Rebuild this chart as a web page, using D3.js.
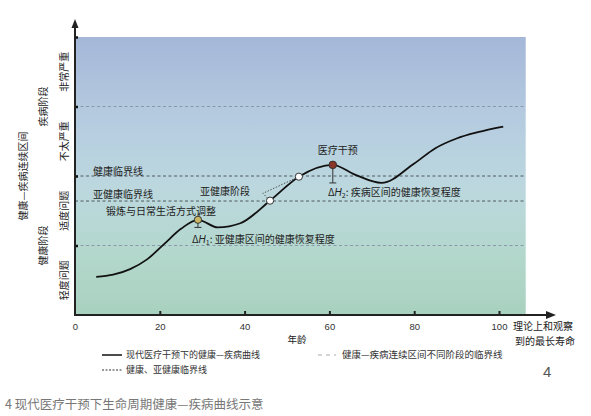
<!DOCTYPE html>
<html>
<head>
<meta charset="utf-8">
<script src="https://cdn.jsdelivr.net/npm/d3@7"></script>
<style>
  html, body { margin: 0; padding: 0; background: #fff; }
  svg { display: block; font-family: "Noto Sans CJK SC", "Noto Sans", sans-serif; }
</style>
</head>
<body>
<svg id="chart" width="591" height="416"></svg>
<script>
// Health–disease curve over the life course (age vs. health level)
const curveAges   = [5, 9, 13, 17, 21, 25, 29, 33.7, 39, 46, 52.8, 60.8, 66, 72.3, 80, 85, 90, 95, 101];
const curveValues = [0.55, 0.58, 0.66, 0.80, 1.02, 1.24, 1.37, 1.26, 1.32, 1.645, 1.99, 2.16, 2.02, 1.90, 2.18, 2.40, 2.54, 2.63, 2.71];

// Marked points on the curve (indices into the arrays above)
const yellowPoint = 6;          // exercise & lifestyle adjustment
const whitePoints = [9, 10];    // sub-health stage crossings
const redPoint = 11;            // medical intervention
const troughAfterYellow = 7;
const troughAfterRed = 13;

// Stage boundaries on the health axis
const stageLevels = [1, 2, 3, 4];
const healthLine = 2;           // 健康临界线
const subHealthLine = 1.64;     // 亚健康临界线

// Slope construction between the two white points
const slopeCorner = [44.3, 1.75];

const xTicks = [0, 20, 40, 60, 80, 100];
const bandLabels = ["轻度问题", "适度问题", "不太严重", "非常严重"];

const svg = d3.select("#chart");
const x = d3.scaleLinear([0, 100], [75, 499]);
const y = d3.scaleLinear([0, 4], [315, 37]);

// background gradient
const defs = svg.append("defs");
const grad = defs.append("linearGradient").attr("id", "bg").attr("x1", 0).attr("y1", 0).attr("x2", 0).attr("y2", 1);
[[0, "#a5b7d8"], [0.3, "#b5cce0"], [0.55, "#bcd8de"], [0.8, "#b2d7cb"], [1, "#a9d1bf"]]
  .forEach(([o, c]) => grad.append("stop").attr("offset", o).attr("stop-color", c));

svg.append("rect")
  .attr("x", x(0) + 1).attr("y", y(4))
  .attr("width", x(106.3) - x(0) - 1).attr("height", y(0) - y(4))
  .attr("fill", "url(#bg)");

// stage boundary lines (light gray)
svg.append("g").selectAll("line")
  .data(stageLevels.filter(v => v === 1 || v === 3))
  .join("line")
  .attr("x1", x(0)).attr("x2", x(106.3))
  .attr("y1", d => y(d)).attr("y2", d => y(d))
  .attr("stroke", "#8a98a8").attr("stroke-width", 1).attr("stroke-dasharray", "3,2.5");

// health & sub-health threshold lines (darker)
svg.append("g").selectAll("line")
  .data([healthLine, subHealthLine])
  .join("line")
  .attr("x1", x(0)).attr("x2", x(106.3))
  .attr("y1", d => y(d)).attr("y2", d => y(d))
  .attr("stroke", "#4e5a5e").attr("stroke-width", 1).attr("stroke-dasharray", "3,2.5");

// curve
const line = d3.line()
  .x((d, i) => x(curveAges[i]))
  .y((d, i) => y(curveValues[i]))
  .curve(d3.curveMonotoneX);
svg.append("path")
  .datum(curveAges)
  .attr("d", line)
  .attr("fill", "none").attr("stroke", "#111").attr("stroke-width", 1.8);

// slope construction (dotted)
const px = i => x(curveAges[i]), py = i => y(curveValues[i]);
svg.append("path")
  .attr("d", `M${px(whitePoints[1])},${py(whitePoints[1])} L${x(slopeCorner[0])},${y(slopeCorner[1])} L${px(whitePoints[0])},${py(whitePoints[0])}`)
  .attr("fill", "none").attr("stroke", "#333").attr("stroke-width", 0.8).attr("stroke-dasharray", "1.5,1.5");

// recovery bars (peak down to following trough)
function recoveryBar(peak, trough) {
  const cx = px(peak), y0 = py(peak), y1 = y(curveValues[trough]);
  svg.append("line").attr("x1", cx).attr("x2", cx).attr("y1", y0).attr("y2", y1)
    .attr("stroke", "#333").attr("stroke-width", 1);
  svg.append("line").attr("x1", cx - 3.5).attr("x2", cx + 3.5).attr("y1", y1).attr("y2", y1)
    .attr("stroke", "#333").attr("stroke-width", 1);
}
recoveryBar(yellowPoint, troughAfterYellow);
recoveryBar(redPoint, troughAfterRed);

// markers
svg.append("circle").attr("cx", px(yellowPoint)).attr("cy", py(yellowPoint)).attr("r", 3.6)
  .attr("fill", "#c9b765").attr("stroke", "#333").attr("stroke-width", 1);
svg.append("g").selectAll("circle").data(whitePoints).join("circle")
  .attr("cx", d => px(d)).attr("cy", d => py(d)).attr("r", 3.6)
  .attr("fill", "#fff").attr("stroke", "#333").attr("stroke-width", 1);
svg.append("circle").attr("cx", px(redPoint)).attr("cy", py(redPoint)).attr("r", 3.8)
  .attr("fill", "#8a3527").attr("stroke", "#333").attr("stroke-width", 1);

// axes
const xAxis = d3.axisBottom(x).tickValues(xTicks).tickSize(-4).tickPadding(8)
  .tickFormat(d3.format("d"));
const gx = svg.append("g").attr("transform", `translate(0,${y(0)})`).call(xAxis);
gx.select(".domain").remove();
gx.selectAll(".tick line").attr("stroke", "#222").attr("stroke-width", 2)
  .filter(d => d === 0).remove();
gx.selectAll(".tick text").attr("font-size", 9.5).attr("fill", "#333")
  .attr("font-family", "Liberation Sans, Arial, sans-serif");

const gy = svg.append("g").attr("transform", `translate(${x(0)},0)`)
  .call(d3.axisRight(y).tickValues(stageLevels).tickSize(3).tickFormat(""));
gy.select(".domain").remove();
gy.selectAll(".tick line").attr("stroke", "#111").attr("stroke-width", 2.5);

// axis lines with arrows
svg.append("line").attr("x1", x(0)).attr("x2", 549).attr("y1", y(0)).attr("y2", y(0))
  .attr("stroke", "#222").attr("stroke-width", 2);
svg.append("path").attr("d", `M556,${y(0)} L546,${y(0) - 4} L546,${y(0) + 4} Z`).attr("fill", "#222");
svg.append("line").attr("x1", x(0)).attr("x2", x(0)).attr("y1", y(0) + 1).attr("y2", 26)
  .attr("stroke", "#222").attr("stroke-width", 2);
svg.append("path").attr("d", `M${x(0)},19 L${x(0) - 3.5},28 L${x(0) + 3.5},28 Z`).attr("fill", "#222");

// axis titles
const txt = (t, xx, yy, opts = {}) => svg.append("text")
  .attr("x", xx).attr("y", yy).attr("dy", "0.35em")
  .attr("font-size", opts.size || 10).attr("fill", opts.fill || "#222")
  .attr("text-anchor", opts.anchor || "start")
  .text(t);
txt("年龄", 297, 340, { anchor: "middle", size: 9.5 });
txt("理论上和观察", 513, 326, { size: 10 });
txt("到的最长寿命", 515, 341, { size: 10 });

// rotated labels along the vertical axis
function vtxt(t, cx, cy) {
  svg.append("text").attr("transform", `translate(${cx},${cy}) rotate(-90)`)
    .attr("text-anchor", "middle").attr("dy", "0.35em")
    .attr("font-size", 10).attr("fill", "#222").text(t);
}
bandLabels.forEach((t, i) => vtxt(t, 64, (y(i) + y(i + 1)) / 2));
vtxt("疾病阶段", 43, (y(2) + y(4)) / 2);
vtxt("健康阶段", 43, (y(0) + y(2)) / 2);
vtxt("健康—疾病连续区间", 23, (y(0) + y(4)) / 2);

// in-plot annotations
txt("健康临界线", 93, 171);
txt("亚健康临界线", 93, 194);
txt("锻炼与日常生活方式调整", 106, 211);
txt("亚健康阶段", 200, 191);
txt("医疗干预", px(redPoint) + 5, 150, { anchor: "middle" });

function deltaLabel(sub, rest, xx, yy) {
  const t = svg.append("text").attr("x", xx).attr("y", yy).attr("dy", "0.35em")
    .attr("font-size", 10).attr("fill", "#222");
  t.append("tspan").text("Δ");
  t.append("tspan").attr("font-style", "italic").attr("font-family", "Liberation Sans, Arial, sans-serif").text("H");
  t.append("tspan").attr("font-size", 7).attr("dy", "2").text(sub);
  t.append("tspan").attr("dy", "-2").text(rest);
}
deltaLabel("1", ": 亚健康区间的健康恢复程度", 192, 239);
deltaLabel("2", ": 疾病区间的健康恢复程度", 328, 192);

// legend
svg.append("line").attr("x1", 102).attr("x2", 122).attr("y1", 355).attr("y2", 355)
  .attr("stroke", "#111").attr("stroke-width", 1.5);
txt("现代医疗干预下的健康—疾病曲线", 126, 355, { size: 9, fill: "#333" });
svg.append("line").attr("x1", 318).attr("x2", 336).attr("y1", 355).attr("y2", 355)
  .attr("stroke", "#aaa").attr("stroke-width", 1).attr("stroke-dasharray", "4,4");
txt("健康—疾病连续区间不同阶段的临界线", 342, 355, { size: 9.5, fill: "#333" });
svg.append("line").attr("x1", 102).attr("x2", 122).attr("y1", 370).attr("y2", 370)
  .attr("stroke", "#333").attr("stroke-width", 1).attr("stroke-dasharray", "2,1.5");
txt("健康、亚健康临界线", 126, 370, { size: 9, fill: "#333" });

svg.append("text").attr("x", 543).attr("y", 377).attr("font-size", 15).attr("fill", "#555")
  .attr("font-family", "Liberation Sans, Arial, sans-serif").text("4");

txt("4 现代医疗干预下生命周期健康—疾病曲线示意", 5, 405, { size: 12.5, fill: "#777" });
</script>
</body>
</html>
